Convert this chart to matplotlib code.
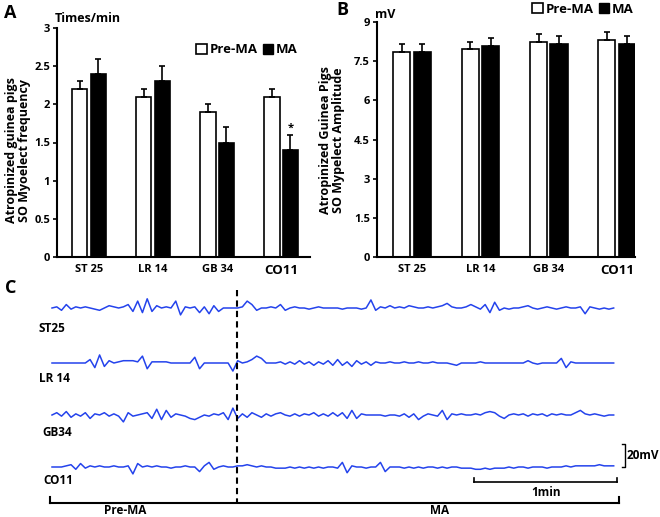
import numpy as np
import matplotlib
matplotlib.use("Agg")
import matplotlib.pyplot as plt
from matplotlib.patches import Patch

plt.rcParams["font.family"] = ["Open Sans", "DejaVu Sans"]
plt.rcParams["font.weight"] = "bold"

# ---- Data ------------------------------------------------------------------
points = ["ST 25", "LR 14", "GB 34", "CO11"]

freq_pre = [2.2, 2.1, 1.9, 2.1]
freq_ma = [2.4, 2.3, 1.5, 1.4]
freq_pre_err = [0.1, 0.1, 0.1, 0.1]
freq_ma_err = [0.2, 0.2, 0.2, 0.2]

amp_pre = [7.85, 7.95, 8.25, 8.3]
amp_ma = [7.85, 8.1, 8.15, 8.15]
amp_pre_err = [0.3, 0.3, 0.3, 0.3]
amp_ma_err = [0.3, 0.3, 0.3, 0.3]

# raw traces (mV), one sample every 2 s
trace_names = ["ST25", "LR 14", "GB34", "CO11"]
st25 = [0, 1, -2, 3, -1, 1, 0, 1, 0, -1, -2, 0, 2, 1, 0, 1, 3, -3, 6, -4,
        8, -3, 2, 0, 1, 0, 6, -6, 1, 0, 1, -4, 1, -5, 2, -3, 0, 0, 0, 0,
        1, 6, 3, -2, 0, 0, 1, 0, 3, -2, 0, 1, 0, 0, -1, 0, 1, 0, 0, 0,
        0, -1, 0, 0, 0, -1, 0, 7, -2, 1, 0, 2, 0, 1, 0, 2, 1, 0, 0, 1,
        0, 1, 2, 4, 1, 0, 0, 1, 3, 1, -1, 3, -4, 5, -2, 0, -1, 0, 0, 1,
        2, 0, -1, 0, 1, 0, -1, 0, 1, 0, 0, 1, -5, 1, 0, -1, 0, -1, 0]
lr14 = [0, 0, 0, 0, 0, 0, 0, 0, 3, -4, 7, -3, 2, 0, 1, 2, 2, 2, 1, 6,
        -5, 1, 1, 1, 1, 0, 0, 0, 0, 0, 5, -5, 0, 0, 0, 0, 0, 0, -7, 2,
        0, 1, 3, 6, 4, 0, 0, 0, 1, -1, 1, -1, 2, -1, 1, -2, 1, -1, 2, -2,
        3, -2, 1, -3, 2, -1, 1, -2, 1, 0, 0, 1, 0, 0, 1, 0, 0, 1, 0, 0,
        1, 0, 0, 0, -1, -2, 0, 0, 0, 0, 1, 0, 0, 0, 0, 0, 0, 0, 0, 0,
        2, 0, -1, 0, 0, 0, 0, 4, -4, 1, 0, 0, 0, 0, 0, 0, 0, 0, 0]
gb34 = [0, 2, -1, 3, -2, 1, -1, 2, -3, 1, 0, 2, -1, 1, -1, -6, 2, -1, 0, 1,
        2, -3, 5, -4, 4, -2, 1, 0, -1, -3, -4, -2, 0, -1, 1, 0, 2, -4, 6, -3,
        1, -2, 2, 0, -2, 1, -1, 1, 2, 0, -1, 1, -1, 1, 0, 2, -1, 1, -1, 2,
        -1, 2, -3, 4, -3, 1, 0, 0, 0, 0, -1, 0, 0, -1, 1, -2, 1, -4, -1, 1,
        0, -1, 4, -4, 1, 0, 1, 0, 0, 1, 0, 2, 3, 2, -1, -3, 0, 1, 0, 1,
        -1, 1, 0, 1, -1, 1, 0, 1, 0, 0, 2, 4, 1, 0, 1, 0, -1, 0, 0]
co11 = [0, 0, 0, 1, 2, -2, 3, -1, 1, 0, 1, 0, 0, 1, 0, 0, 1, -6, 3, 0,
        1, 0, 1, 0, 0, -1, 0, 0, 1, 0, 0, -4, 1, 4, -2, 0, 1, 0, 0, 1,
        1, 2, 1, 0, 1, 0, 0, -1, -1, -1, 0, -1, 0, -1, 0, -1, 0, -1, 0, 0,
        -1, 4, -5, 1, 0, 0, -1, 0, 0, 4, -4, 0, 0, 0, -1, 0, -1, 0, -1, 0,
        0, -1, 0, -1, 0, 0, -1, -1, -1, -2, -2, -1, -2, -1, -1, -1, 0, -1, 0, 0,
        -1, 0, 0, 0, -1, 0, 0, 0, 1, 0, 1, 1, 1, 1, 1, 2, 1, 1, 1]
traces = [st25, lr14, gb34, co11]
t = np.arange(len(st25)) * 2.0
t_start_ma = 77.7  # seconds

# ---- Figure ----------------------------------------------------------------
W, H = 660, 517
fig = plt.figure(figsize=(W / 100, H / 100), dpi=100, facecolor="white")


def bar_panel(rect, pre, ma, pre_err, ma_err, ymax, step, gap, width, off, leg_at):
    ax = fig.add_axes(rect)
    x = np.arange(len(points))
    ax.bar(x - off, pre, width, color="white", edgecolor="black", lw=1.2, zorder=2)
    ax.bar(x + off, ma, width, color="black", edgecolor="black", lw=1.2, zorder=2)
    ax.errorbar(x - off, pre, yerr=[np.zeros(4), pre_err], fmt="none",
                ecolor="black", elinewidth=1.2, capsize=2.5, capthick=1.2, zorder=3)
    ax.errorbar(x + off, ma, yerr=[np.zeros(4), ma_err], fmt="none",
                ecolor="black", elinewidth=1.2, capsize=2.5, capthick=1.2, zorder=3)
    ax.set_ylim(0, ymax)
    ax.set_xlim(gap[0], gap[1])
    ax.set_yticks(np.arange(0, ymax + 0.01, step))
    ax.set_xticks(x)
    ax.set_xticklabels(points)
    for lab in ax.get_xticklabels():
        lab.set_fontsize(9.5 if lab.get_text() == "CO11" else 8)
        lab.set_fontweight("bold")
    ax.tick_params(axis="x", length=0, pad=5)
    ax.tick_params(axis="y", length=3, width=1.2, labelsize=8, pad=2)
    for s in ["top", "right"]:
        ax.spines[s].set_visible(False)
    for s in ["left", "bottom"]:
        ax.spines[s].set_linewidth(1.5)
    ax.legend(handles=[Patch(facecolor="white", edgecolor="black", lw=1.2, label="Pre-MA"),
                       Patch(facecolor="black", edgecolor="black", label="MA")],
              ncol=2, frameon=False, handlelength=0.8, handleheight=0.8,
              handletextpad=0.2, columnspacing=0.4, borderpad=0,
              prop={"size": 9.5, "weight": "bold"}, loc="center",
              bbox_to_anchor=(leg_at[0] / W, 1 - leg_at[1] / H),
              bbox_transform=fig.transFigure)
    return ax


axA = bar_panel([57 / W, 1 - 257 / H, 253 / W, 229 / H], freq_pre, freq_ma,
                freq_pre_err, freq_ma_err, 3, 0.5, (-0.5, 3.45), 0.24, 0.145,
                (247, 50))
axA.set_yticklabels(["0", "0.5", "1", "1.5", "2", "2.5", "3"])
axA.text(3 + 0.145, freq_ma[3] + freq_ma_err[3] + 0.02, "*", ha="center",
         va="bottom", fontsize=8, fontweight="bold")

axB = bar_panel([377 / W, 1 - 257 / H, 258 / W, 235 / H], amp_pre, amp_ma,
                amp_pre_err, amp_ma_err, 9, 1.5, (-0.51, 3.26), 0.25, 0.15,
                (583, 9))
axB.set_yticklabels(["0", "1.5", "3", "4.5", "6", "7.5", "9"])

fig.text(55 / W, 1 - 19 / H, "Times/min", fontsize=9, fontweight="bold",
         ha="left", va="center")
fig.text(375 / W, 1 - 15 / H, "mV", fontsize=9, fontweight="bold",
         ha="left", va="center")
fig.text(18 / W, 1 - 150 / H, "Atropinized guinea pigs\nSO Myoelect frequency",
         rotation=90, ha="center", va="center", fontsize=9, fontweight="bold",
         linespacing=1.05)
fig.text(332 / W, 1 - 140 / H, "Atropinized Guinea Pigs\nSO Mypelect Amplitude",
         rotation=90, ha="center", va="center", fontsize=9, fontweight="bold",
         linespacing=1.05)
for lab, (px, py) in zip("ABC", [(10, 13), (342, 10), (11, 288)]):
    fig.text(px / W, 1 - py / H, lab, fontsize=13, fontweight="bold",
             ha="center", va="center")

# ---- Panel C: raw traces ---------------------------------------------------
PX_PER_S = 2.38   # 1 min = 143 px
PX_PER_MV = 1.15  # 20 mV = 23 px
C_TOP = 280


def X(px):
    return (px - 52) / PX_PER_S


def Y(py):
    return (H - py) / PX_PER_MV


axC = fig.add_axes([0, 0, 1, (H - C_TOP) / H])
axC.set_xlim(X(0), X(W))
axC.set_ylim(Y(H), Y(C_TOP))
axC.axis("off")

baselines = [308, 363, 415, 467]
label_pos = [(38, 328), (39, 379), (42, 433), (43, 480)]
for tr, name, base, (lx, ly) in zip(traces, trace_names, baselines, label_pos):
    axC.plot(t, Y(base) + np.array(tr, dtype=float), color="#2443ec", lw=1.1)
    axC.text(X(lx), Y(ly), name, fontsize=8.5, fontweight="bold",
             ha="left", va="center")

axC.plot([t_start_ma, t_start_ma], [Y(290), Y(502)], color="black", lw=1.5,
         ls=(0, (3, 2)))
# Pre-MA / MA bracket
axC.plot([X(50), X(619)], [Y(503), Y(503)], color="black", lw=1.5)
for px in [50, 619]:
    axC.plot([X(px), X(px)], [Y(497), Y(503)], color="black", lw=1.5)
axC.text(X(125), Y(511), "Pre-MA", fontsize=8.5, fontweight="bold",
         ha="center", va="center")
axC.text(X(440), Y(511), "MA", fontsize=8.5, fontweight="bold",
         ha="center", va="center")

# 1 min scale bar
t_end = X(617)
axC.plot([t_end - 60, t_end], [Y(482), Y(482)], color="black", lw=1.2)
for tx in [t_end - 60, t_end]:
    axC.plot([tx, tx], [Y(478), Y(482)], color="black", lw=1.2)
axC.text(t_end - 30, Y(493), "1min", fontsize=8.5, fontweight="bold",
         ha="center", va="center")

# 20 mV scale bar
y0 = Y(467)
axC.plot([X(622), X(625), X(625), X(622)], [y0, y0, y0 + 20, y0 + 20],
         color="black", lw=1.0)
axC.text(X(627), y0 + 10, "20mV", fontsize=8.5, fontweight="bold",
         ha="left", va="center")

fig.savefig("out.png", dpi=100, facecolor="white")
